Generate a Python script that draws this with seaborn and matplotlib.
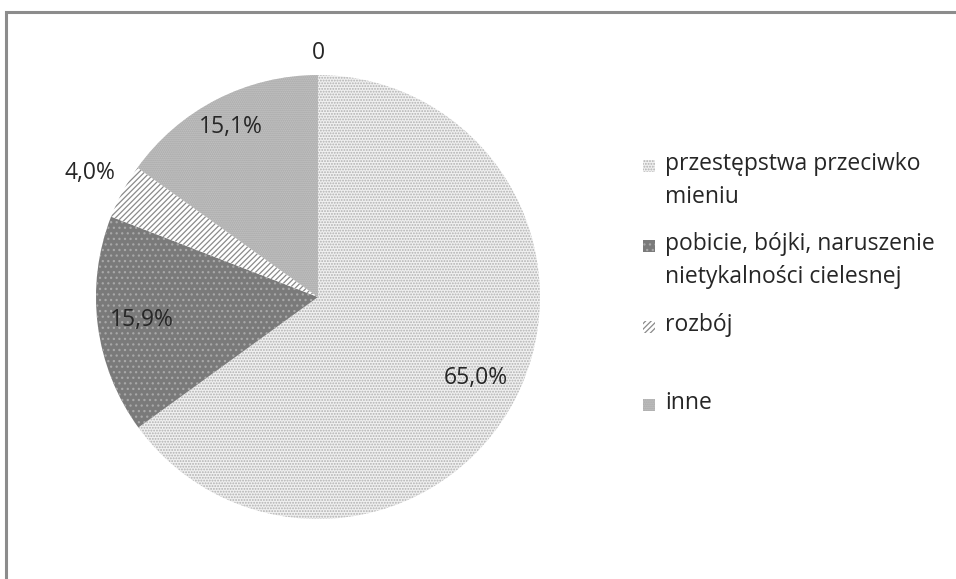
import numpy as np
import seaborn as sns
import matplotlib.pyplot as plt
from matplotlib.patches import Rectangle

# data
categories = ["przestępstwa przeciwko\nmieniu",
              "pobicie, bójki, naruszenie\nnietykalności cielesnej",
              "rozbój",
              "inne"]
values = [65.0, 15.9, 4.0, 15.1]
extra_value = 0  # the lone "0" label at the top
pct_labels = ["65,0%", "15,9%", "4,0%", "15,1%"]

face_colors = ["#f0f0f0", "#7a7a7a", "#ffffff", "#c2c2c2"]
hatch_colors = ["#b0b0b0", "#a8a8a8", "#8a8a8a", "#a6a6a6"]
hatches = ["......", "...", "//////", "........"]

sns.set_theme(style="white")
plt.rcParams['font.family'] = ['Open Sans', 'DejaVu Sans']
plt.rcParams['hatch.linewidth'] = 0.9

fig = plt.figure(figsize=(9.56, 5.79), dpi=100)
ax = fig.add_axes([0.1004, 0.1036, 0.4644, 0.7668])

wedges, _ = ax.pie(values + [extra_value], startangle=90, counterclock=False,
                   colors=face_colors + ["#ffffff"], radius=1.0,
                   wedgeprops=dict(linewidth=0))
for w, hc, h in zip(wedges, hatch_colors + ["#ffffff"], hatches + [""]):
    w.set_edgecolor(hc)
    w.set_hatch(h)
    w.set_linewidth(0)

txt_color = "#262626"
fs = 16.5
dists = [0.8, 0.8, 1.17, 0.86, 1.1]
all_labels = pct_labels + [str(extra_value)]
for w, lab, d in zip(wedges, all_labels, dists):
    ang = np.deg2rad((w.theta1 + w.theta2) / 2)
    ax.text(d * np.cos(ang), d * np.sin(ang), lab, ha="center", va="center",
            fontsize=fs, color=txt_color)
ax.set_xlim(-1, 1)
ax.set_ylim(-1, 1)
ax.set_aspect("equal")
ax.axis("off")

# legend drawn by hand to match the Excel layout
W, H = 956, 579
entry_y = [166, 246, 327, 405]
for lab, fc, hc, h, y in zip(categories, face_colors, hatch_colors, hatches, entry_y):
    r = Rectangle(((643) / W, 1 - (y + 6) / H), 12 / W, 12 / H, transform=fig.transFigure,
                  facecolor=fc, edgecolor=hc, hatch=h, linewidth=0)
    fig.patches.append(r)
    fig.text(665 / W, 1 - (y - 14) / H, lab, ha="left", va="top", fontsize=fs,
             color=txt_color, linespacing=1.5)

# outer chart frame
frame = Rectangle((6 / W, -0.05), 1.1, 1 - 12 / H + 0.05, transform=fig.transFigure,
                  fill=False, edgecolor="#8c8c8c", linewidth=2.2)
fig.patches.append(frame)

fig.savefig("out.png", dpi=100, facecolor="white")
